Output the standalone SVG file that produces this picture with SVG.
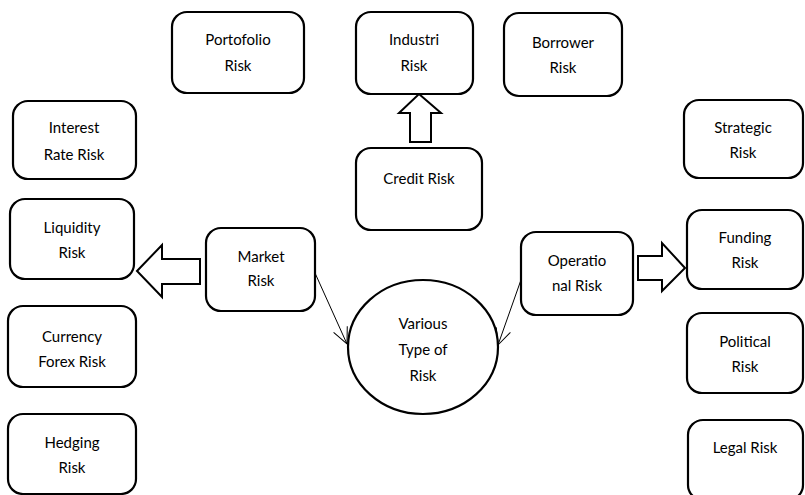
<svg xmlns="http://www.w3.org/2000/svg" width="805" height="495" viewBox="0 0 805 495">
<style>
.box{fill:#fff;stroke:#000;stroke-width:2.2}
.blk{fill:#fff;stroke:#000;stroke-width:2;stroke-linejoin:miter}
.t{font-family:Lato,"Liberation Sans",sans-serif;font-size:15px;fill:#000;text-anchor:middle}
.c{fill:none;stroke:#000;stroke-width:1}
</style>
<defs>
<marker id="open" viewBox="0 0 20 20" refX="18" refY="10" markerWidth="20" markerHeight="20" markerUnits="userSpaceOnUse" orient="auto">
<path d="M2,2.5 L18,10 L2,17.5" fill="none" stroke="#000" stroke-width="1"/>
</marker>
</defs>
<rect width="805" height="495" fill="#fff"/>
<g id="connectors">
<line class="c" x1="315" y1="273" x2="347" y2="344" marker-end="url(#open)"/>
<line class="c" x1="522" y1="277" x2="498" y2="345" marker-end="url(#open)"/>
<path id="arrow-up" class="blk" d="M419,94 L441,113 L431,113 L431,142 L410,142 L410,113 L399,113 Z"/>
<path id="arrow-left" class="blk" d="M137,271 L162,245 L162,259 L200,259 L200,284 L162,284 L162,297 Z"/>
<path id="arrow-right" class="blk" d="M685,268 L662,243 L662,256 L638,256 L638,280 L662,280 L662,291 Z"/>
</g>
<g id="portofolio"><rect class="box" x="172" y="12" width="132" height="81" rx="15"/><text class="t" x="238" y="45">Portofolio</text><text class="t" x="238" y="71">Risk</text></g>
<g id="industri"><rect class="box" x="356" y="12" width="117" height="82" rx="15"/><text class="t" x="414" y="45">Industri</text><text class="t" x="414" y="71">Risk</text></g>
<g id="borrower"><rect class="box" x="504" y="13" width="118" height="83" rx="15"/><text class="t" x="563" y="48">Borrower</text><text class="t" x="563" y="73">Risk</text></g>
<g id="credit"><rect class="box" x="356" y="148" width="126" height="82" rx="15"/><text class="t" x="419" y="184">Credit Risk</text></g>
<g id="interest"><rect class="box" x="13" y="101" width="123" height="78" rx="15"/><text class="t" x="74" y="133">Interest</text><text class="t" x="74" y="160">Rate Risk</text></g>
<g id="liquidity"><rect class="box" x="10" y="199" width="124" height="80" rx="15"/><text class="t" x="72" y="233">Liquidity</text><text class="t" x="72" y="258">Risk</text></g>
<g id="currency"><rect class="box" x="8" y="306" width="128" height="81" rx="15"/><text class="t" x="72" y="342">Currency</text><text class="t" x="72" y="367">Forex Risk</text></g>
<g id="hedging"><rect class="box" x="8" y="414" width="128" height="80" rx="15"/><text class="t" x="72" y="448">Hedging</text><text class="t" x="72" y="473">Risk</text></g>
<g id="market"><rect class="box" x="206" y="228" width="109" height="83" rx="15"/><text class="t" x="261" y="262">Market</text><text class="t" x="261" y="286">Risk</text></g>
<g id="various"><ellipse class="box" cx="423" cy="347" rx="75" ry="67"/><text class="t" x="423" y="329">Various</text><text class="t" x="423" y="355">Type of</text><text class="t" x="423" y="381">Risk</text></g>
<g id="operational"><rect class="box" x="521" y="232" width="112" height="83" rx="15"/><text class="t" x="577" y="266">Operatio</text><text class="t" x="577" y="291">nal Risk</text></g>
<g id="strategic"><rect class="box" x="684" y="100" width="119" height="78" rx="15"/><text class="t" x="743" y="133">Strategic</text><text class="t" x="743" y="158">Risk</text></g>
<g id="funding"><rect class="box" x="687" y="210" width="116" height="79" rx="15"/><text class="t" x="745" y="243">Funding</text><text class="t" x="745" y="268">Risk</text></g>
<g id="political"><rect class="box" x="687" y="313" width="116" height="80" rx="15"/><text class="t" x="745" y="347">Political</text><text class="t" x="745" y="372">Risk</text></g>
<g id="legal"><rect class="box" x="688" y="420" width="115" height="80" rx="15"/><text class="t" x="745" y="453">Legal Risk</text></g>
</svg>
